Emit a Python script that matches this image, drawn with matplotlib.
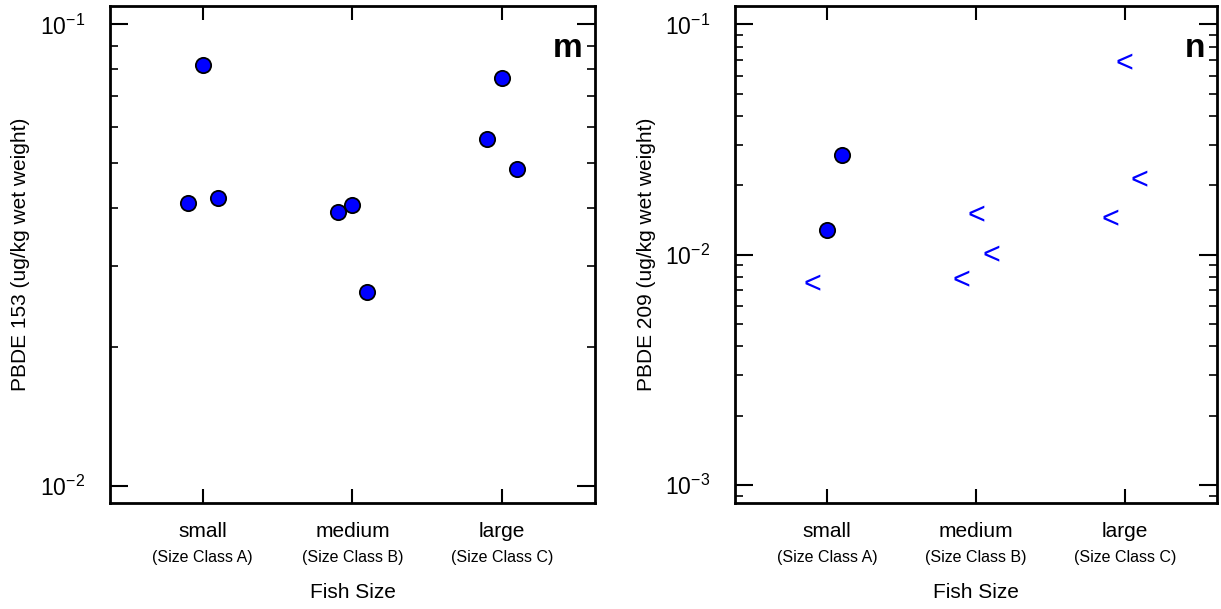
import numpy as np
import matplotlib.pyplot as plt
from matplotlib.ticker import LogLocator, NullFormatter

plt.rcParams['font.family'] = ['Liberation Sans', 'DejaVu Sans']
plt.rcParams['mathtext.fontset'] = 'custom'
plt.rcParams['mathtext.rm'] = 'Liberation Sans'

# 鱼体大小分类
sizes = ['small', 'medium', 'large']
size_classes = ['(Size Class A)', '(Size Class B)', '(Size Class C)']
offsets = [-0.1, 0.0, 0.1]

# PBDE 153 检出值 (每组三条鱼)
pbde153 = [[0.0410, 0.0817, 0.0421],
           [0.0393, 0.0406, 0.0263],
           [0.0565, 0.0766, 0.0486]]

# PBDE 209: 检出值与低于检出限的值 (组号, 偏移, 数值)
pbde209_detect = [(0, 0.0, 0.0128), (0, 0.1, 0.0272)]
pbde209_nd = [(0, -0.1, 0.00763),
              (1, 0.0, 0.0152), (1, 0.1, 0.0102), (1, -0.1, 0.00795),
              (2, 0.0, 0.0695), (2, 0.1, 0.0216), (2, -0.1, 0.0146)]

fig = plt.figure(figsize=(12.21, 6.09), dpi=100)
ax1 = fig.add_axes([110 / 1221, 1 - 503 / 609, 485 / 1221, 497 / 609])
ax2 = fig.add_axes([735 / 1221, 1 - 503 / 609, 482 / 1221, 497 / 609])


def style_axis(ax, ylim, ylabel, tag):
    ax.set_yscale('log')
    ax.set_ylim(*ylim)
    ax.set_xlim(1 - 0.62, 3 + 0.62)
    ax.set_xticks([1, 2, 3])
    ax.set_xticklabels(sizes, fontsize=15)
    for sp in ax.spines.values():
        sp.set_linewidth(2)
    ax.yaxis.set_major_locator(LogLocator(base=10, numticks=10))
    ax.yaxis.set_minor_locator(LogLocator(base=10, subs=np.arange(2, 10), numticks=10))
    ax.yaxis.set_minor_formatter(NullFormatter())
    ax.tick_params(axis='y', which='major', direction='in', length=13, width=1.5,
                   left=True, right=True, labelsize=16.5, pad=18)
    ax.tick_params(axis='y', which='minor', direction='in', length=6, width=1.2,
                   left=True, right=True)
    ax.tick_params(axis='x', which='major', direction='in', length=10, width=1.5,
                   top=True, bottom=True, pad=14)
    ax.tick_params(axis='x', which='minor', bottom=False, top=False)
    for i, s in enumerate(size_classes):
        ax.text(i + 1, -0.109, s, transform=ax.get_xaxis_transform(),
                ha='center', va='center', fontsize=11.5)
    ax.text(0.5, -0.181, 'Fish Size', transform=ax.transAxes,
            ha='center', va='center', fontsize=15)
    ax.set_ylabel(ylabel, fontsize=15)
    ax.yaxis.set_label_coords(-0.164, 0.5)
    ax.text(0.975, 0.915, tag, transform=ax.transAxes, ha='right', va='center',
            fontsize=24, fontweight='bold')


# 左图: PBDE 153
style_axis(ax1, (10 ** -2.037, 10 ** -0.960), 'PBDE 153 (ug/kg wet weight)', 'm')
for i, vals in enumerate(pbde153):
    xs = [i + 1 + o for o in offsets]
    ax1.plot(xs, vals, 'o', color='#0000ff', markeredgecolor='black',
             markeredgewidth=1.3, markersize=11, zorder=3)

# 右图: PBDE 209
style_axis(ax2, (10 ** -3.078, 10 ** -0.920), 'PBDE 209 (ug/kg wet weight)', 'n')
ax2.plot([g + 1 + o for g, o, v in pbde209_detect], [v for g, o, v in pbde209_detect],
         'o', color='#0000ff', markeredgecolor='black', markeredgewidth=1.3,
         markersize=11, zorder=3)
for g, o, v in pbde209_nd:
    ax2.text(g + 1 + o, v, '<', color='#0000ff', fontsize=22,
             ha='center', va='center_baseline')

fig.savefig('out.png', dpi=100)
